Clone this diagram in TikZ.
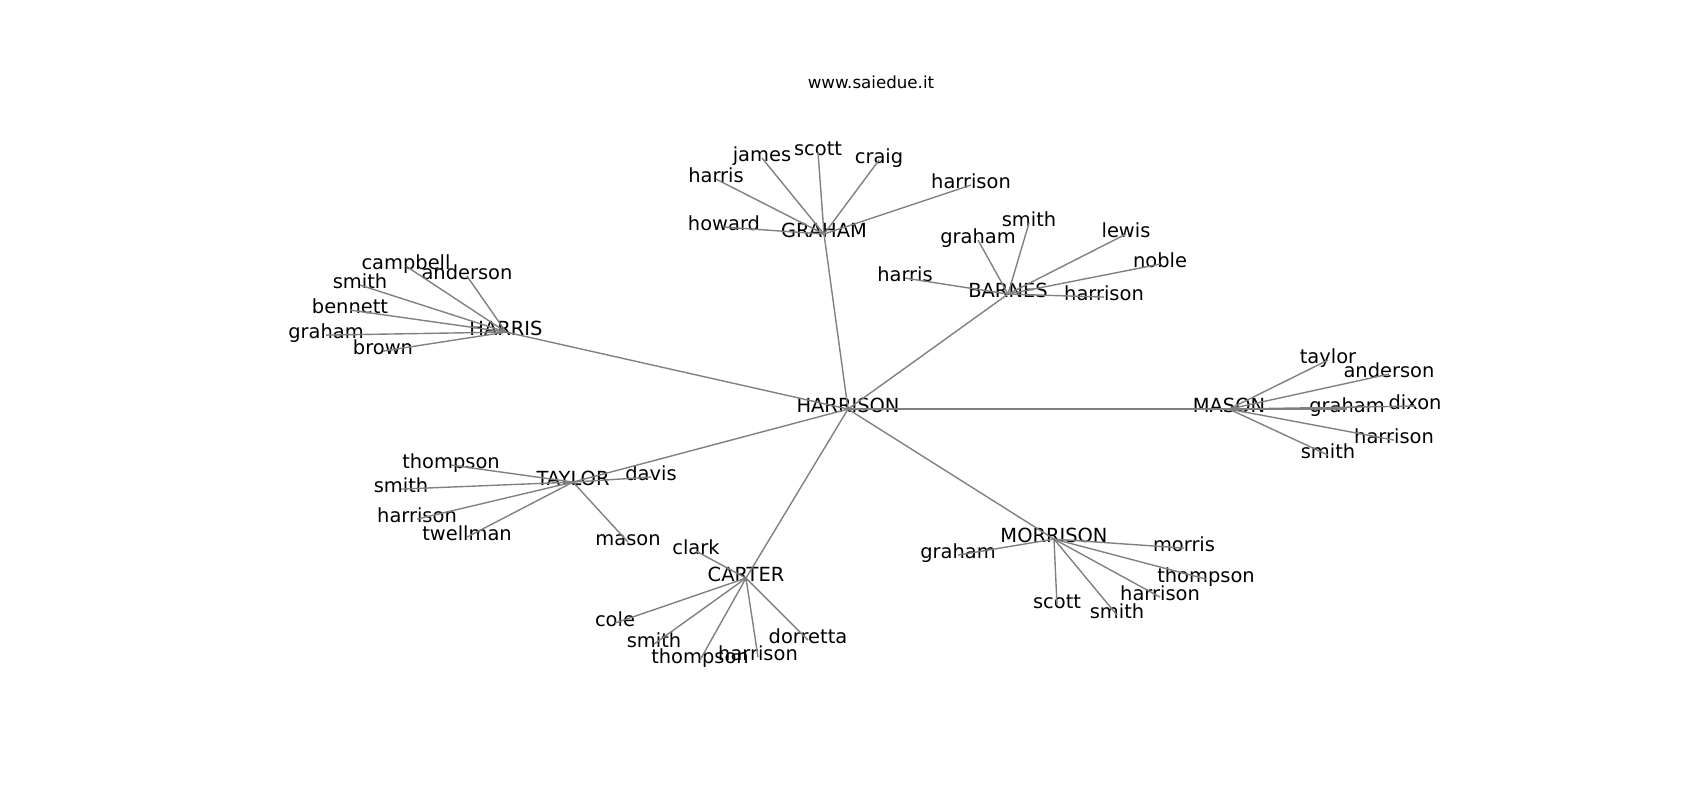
\documentclass[tikz,border=0pt]{standalone}
\usepackage{fontspec}
\setmainfont{DejaVu Sans}
\begin{document}
\begin{tikzpicture}[x=0.72pt,y=-0.72pt,
  lbl/.style={inner sep=0pt,text height=0.76em,text depth=0.24em,anchor=center,font=\fontsize{14}{16}\selectfont},
  ttl/.style={inner sep=0pt,anchor=base,font=\fontsize{12}{14}\selectfont},
  edge/.style={draw=gray,line width=1pt}]
\fill[white] (0,0) rectangle (1700,800);
\useasboundingbox (0,0) rectangle (1700,800);
\node[ttl] (title) at (871,88) {www.saiedue.it};
\begin{scope}[yshift=-1.5pt]
% hubs
\node[lbl] (HARRISON) at (848,407) {HARRISON};
\node[lbl] (GRAHAM) at (824,232) {GRAHAM};
\node[lbl] (BARNES) at (1008,292) {BARNES};
\node[lbl] (HARRIS) at (506,330) {HARRIS};
\node[lbl] (MASON) at (1229,407) {MASON};
\node[lbl] (TAYLOR) at (573,480) {TAYLOR};
\node[lbl] (CARTER) at (746,576) {CARTER};
\node[lbl] (MORRISON) at (1054,537) {MORRISON};
% GRAHAM leaves
\node[lbl] (g1) at (724,225) {howard};
\node[lbl] (g2) at (716,177) {harris};
\node[lbl] (g3) at (762,156) {james};
\node[lbl] (g4) at (818,150) {scott};
\node[lbl] (g5) at (879,158) {craig};
\node[lbl] (g6) at (971,183) {harrison};
% BARNES leaves
\node[lbl] (b1) at (905,276) {harris};
\node[lbl] (b2) at (978,238) {graham};
\node[lbl] (b3) at (1029,221) {smith};
\node[lbl] (b4) at (1126,232) {lewis};
\node[lbl] (b5) at (1160,262) {noble};
\node[lbl] (b6) at (1104,295) {harrison};
% HARRIS leaves
\node[lbl] (h1) at (406,264) {campbell};
\node[lbl] (h2) at (467,274) {anderson};
\node[lbl] (h3) at (360,283) {smith};
\node[lbl] (h4) at (350,308) {bennett};
\node[lbl] (h5) at (326,333) {graham};
\node[lbl] (h6) at (383,349) {brown};
% MASON leaves
\node[lbl] (m1) at (1328,358) {taylor};
\node[lbl] (m2) at (1389,372) {anderson};
\node[lbl] (m3) at (1415,404) {dixon};
\node[lbl] (m4) at (1347,407) {graham};
\node[lbl] (m5) at (1394,438) {harrison};
\node[lbl] (m6) at (1328,453) {smith};
% TAYLOR leaves
\node[lbl] (t1) at (451,463) {thompson};
\node[lbl] (t2) at (401,487) {smith};
\node[lbl] (t3) at (417,517) {harrison};
\node[lbl] (t4) at (467,535) {twellman};
\node[lbl] (t5) at (651,475) {davis};
\node[lbl] (t6) at (628,540) {mason};
% CARTER leaves
\node[lbl] (c1) at (696,549) {clark};
\node[lbl] (c2) at (615,621) {cole};
\node[lbl] (c3) at (654,642) {smith};
\node[lbl] (c4) at (700,658) {thompson};
\node[lbl] (c5) at (758,655) {harrison};
\node[lbl] (c6) at (808,638) {dorretta};
% MORRISON leaves
\node[lbl] (o1) at (958,553) {graham};
\node[lbl] (o2) at (1184,546) {morris};
\node[lbl] (o3) at (1206,577) {thompson};
\node[lbl] (o4) at (1160,595) {harrison};
\node[lbl] (o5) at (1057,603) {scott};
\node[lbl] (o6) at (1117,613) {smith};
% edges
\foreach \h in {GRAHAM,BARNES,HARRIS,MASON,TAYLOR,CARTER,MORRISON}
  \draw[edge] (HARRISON.center) -- (\h.center);
\foreach \hub/\p in {GRAHAM/g,BARNES/b,HARRIS/h,MASON/m,TAYLOR/t,CARTER/c,MORRISON/o}
  \foreach \i in {1,...,6}
    \draw[edge] (\hub.center) -- (\p\i.center);
\end{scope}
\end{tikzpicture}
\end{document}
